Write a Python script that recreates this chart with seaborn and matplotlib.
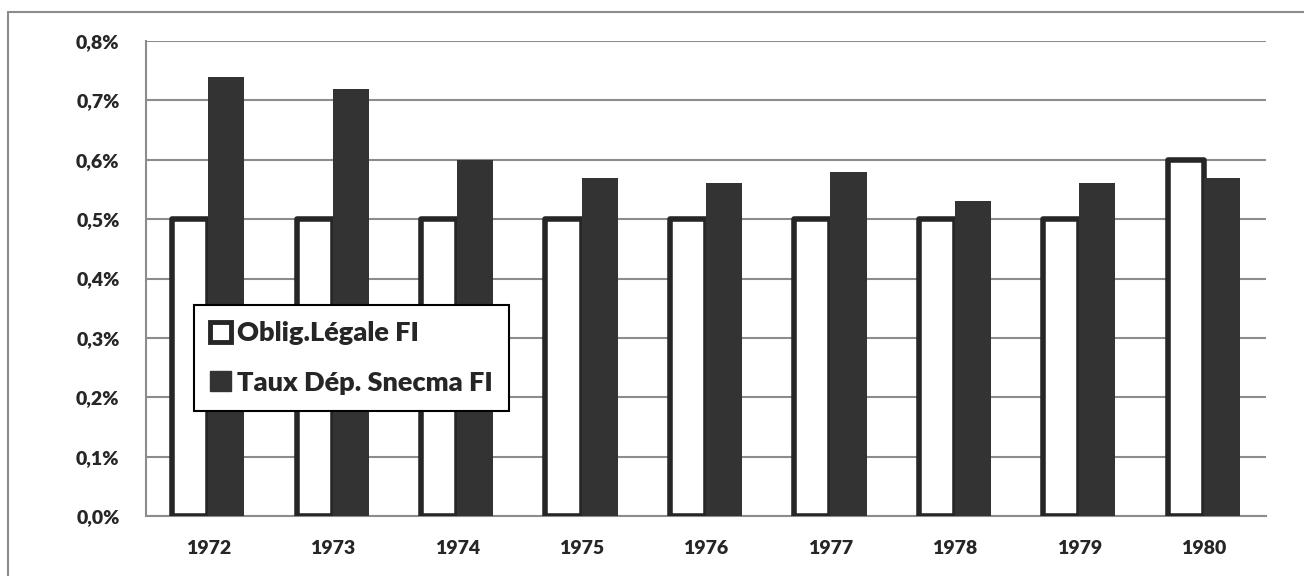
import matplotlib
matplotlib.use("Agg")
import matplotlib.pyplot as plt
from matplotlib.patches import Patch
from matplotlib.ticker import FuncFormatter, MultipleLocator
from matplotlib.lines import Line2D
import pandas as pd
import seaborn as sns

years = ['1972', '1973', '1974', '1975', '1976', '1977', '1978', '1979', '1980']
oblig_legale = [0.50, 0.50, 0.50, 0.50, 0.50, 0.50, 0.50, 0.50, 0.60]
taux_snecma = [0.74, 0.72, 0.60, 0.57, 0.56, 0.58, 0.53, 0.56, 0.57]
series_names = ['Oblig.Légale FI', 'Taux Dép. Snecma FI']

sns.set_style("white")
plt.rcParams['font.family'] = ['Lato', 'DejaVu Sans']
plt.rcParams['font.weight'] = 'bold'

df = pd.DataFrame({'Année': years * 2,
                   'Série': [series_names[0]] * len(years) + [series_names[1]] * len(years),
                   'Valeur': oblig_legale + taux_snecma})

fig = plt.figure(figsize=(13.04, 5.76), dpi=100)
ax = fig.add_axes([146 / 1304, 1 - 516 / 576, 1120 / 1304, 475 / 576])

dark = '#333333'
edge = '#262626'
sns.barplot(data=df, x='Année', y='Valeur', hue='Série', order=years,
            hue_order=series_names, palette=['white', dark], width=0.58,
            gap=0, ax=ax, legend=False, zorder=3)

n = len(years)
for i, p in enumerate(ax.patches[:2 * n]):
    if i < n:
        p.set_edgecolor(edge)
        p.set_linewidth(4)
        p.set_joinstyle('round')
    else:
        p.set_edgecolor(dark)
        p.set_linewidth(0)

ax.set_ylim(0, 0.8)
ax.set_xlim(-0.5, n - 0.5)
ax.yaxis.set_major_locator(MultipleLocator(0.1))
ax.yaxis.set_major_formatter(FuncFormatter(lambda v, _: f"{v:.1f}%".replace('.', ',')))
ax.grid(axis='y', color='#8c8c8c', linewidth=1.5, zorder=0)
ax.set_axisbelow(True)
ax.set_xlabel('')
ax.set_ylabel('')

for s in ['top', 'right']:
    ax.spines[s].set_visible(False)
for s in ['left', 'bottom']:
    ax.spines[s].set_color('#8c8c8c')
    ax.spines[s].set_linewidth(1.5)

ax.set_xticks([i + 0.5 for i in range(-1, n)], minor=True)
ax.tick_params(axis='x', which='major', length=0, pad=17)
ax.tick_params(axis='x', which='minor', length=8, width=1.5, color='#8c8c8c')
ax.tick_params(axis='y', length=10, width=1.5, color='#8c8c8c', pad=9)
for lab in ax.get_xticklabels() + ax.get_yticklabels():
    lab.set_fontweight('heavy')
    lab.set_fontsize(14)

handles = [Patch(facecolor='white', edgecolor=edge, linewidth=3.5),
           Patch(facecolor=dark, edgecolor=dark)]
leg = ax.legend(handles, series_names, loc='lower left',
                bbox_to_anchor=(0.043, 0.221), fancybox=False,
                framealpha=1, edgecolor='black', handlelength=0.75,
                handleheight=0.75, handletextpad=0.25, labelspacing=0.95,
                borderpad=0.6, borderaxespad=0,
                prop={'size': 19.5, 'weight': 'heavy'})
leg.get_frame().set_linewidth(1.5)
leg.set_zorder(5)

fig.add_artist(Line2D([8 / 1304, 8 / 1304], [0, 1 - 12 / 576], transform=fig.transFigure,
                      color='#8c8c8c', linewidth=1.5))
fig.add_artist(Line2D([8 / 1304, 1], [1 - 12 / 576, 1 - 12 / 576], transform=fig.transFigure,
                      color='#8c8c8c', linewidth=1.5))

fig.savefig('out.png', dpi=100)
